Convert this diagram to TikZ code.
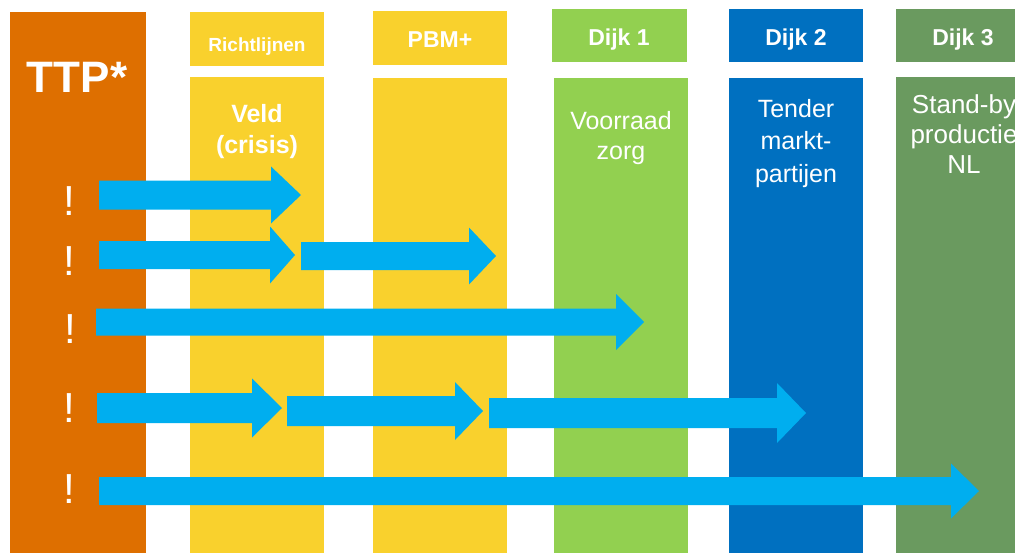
\documentclass[tikz,border=0pt]{standalone}
\usepackage{fontspec}
\setmainfont{Liberation Sans}
\definecolor{ttporange}{HTML}{DE6F00}
\definecolor{pbmyellow}{HTML}{F9D12D}
\definecolor{dijkone}{HTML}{92D050}
\definecolor{dijktwo}{HTML}{0070C0}
\definecolor{dijkthree}{HTML}{6A9A5F}
\definecolor{arrowcol}{HTML}{00AEEF}
\newcommand{\blockarr}[6]{%
  \fill[arrowcol] (#1,#4-#5) -- (#2,#4-#5) -- (#2,#4-#6) -- (#3,#4) -- (#2,#4+#6) -- (#2,#4+#5) -- (#1,#4+#5) -- cycle;}
\begin{document}
\begin{tikzpicture}[x=1pt,y=-1pt,
  lbl/.style={text=white,inner sep=0pt,anchor=base,align=center},
  hdrbold/.style={lbl,font=\fontsize{23}{27}\selectfont\bfseries},
  bodybold/.style={lbl,font=\fontsize{25}{31}\selectfont\bfseries},
  bodyreg/.style={lbl,font=\fontsize{25}{30}\selectfont},
  bang/.style={lbl,font=\fontsize{42}{42}\selectfont}]
\useasboundingbox (0,0) rectangle (1015,552);
\clip (0,0) rectangle (1015,552);
\fill[white] (0,0) rectangle (1015,552);
% columns
\fill[ttporange] (10,12) rectangle (146,560);
\fill[pbmyellow] (190,12) rectangle (324,66);
\fill[pbmyellow] (190,77) rectangle (324,560);
\fill[pbmyellow] (373,11) rectangle (507,65);
\fill[pbmyellow] (373,78) rectangle (507,560);
\fill[dijkone] (552,9) rectangle (687,62);
\fill[dijkone] (554,78) rectangle (688,560);
\fill[dijktwo] (729,9) rectangle (863,62);
\fill[dijktwo] (729,78) rectangle (863,560);
\fill[dijkthree] (896,9) rectangle (1030,62);
\fill[dijkthree] (896,77) rectangle (1030,560);
% header texts
\node[lbl,font=\fontsize{44}{44}\selectfont\bfseries] (ttp) at (77,92) {TTP*};
\node[lbl,font=\fontsize{19}{22}\selectfont\bfseries] (richt) at (257,51) {Richtlijnen};
\node[hdrbold] (pbm) at (440,47) {PBM+};
\node[hdrbold] (dijk1) at (619,45) {Dijk 1};
\node[hdrbold] (dijk2) at (796,45) {Dijk 2};
\node[hdrbold] (dijk3) at (963,45) {Dijk 3};
% body texts (base anchor = baseline of last line)
\node[bodybold] (veld) at (257,153) {Veld\\(crisis)};
\node[bodyreg] (voorraad) at (621,159) {Voorraad\\zorg};
\node[lbl,font=\fontsize{25}{32.5}\selectfont] (tender) at (796,182) {Tender\\markt-\\partijen};
\node[lbl,font=\fontsize{26}{30}\selectfont] (standby) at (964,173) {Stand-by\\productie\\NL};
% exclamation marks
\node[bang] (b1) at (69,215) {!};
\node[bang] (b2) at (69,275) {!};
\node[bang] (b3) at (70,343) {!};
\node[bang] (b4) at (69,422) {!};
\node[bang] (b5) at (69,503) {!};
% arrows: start, head base, tip, centre y, half shaft, half head
\blockarr{99}{271}{301}{195}{14.5}{28.5}
\blockarr{99}{270}{295}{255}{14}{28.5}
\blockarr{301}{469}{496}{256}{14}{28.5}
\blockarr{96}{616}{644}{322}{13.5}{28}
\blockarr{97}{252}{282}{408}{15}{29.5}
\blockarr{287}{455}{483}{411}{15}{29}
\blockarr{489}{777}{806}{413}{15}{30}
\blockarr{99}{951}{979}{491}{14}{27.5}
\end{tikzpicture}
\end{document}
